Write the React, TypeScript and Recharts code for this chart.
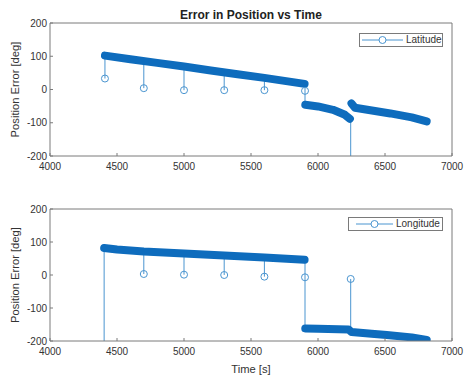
import { ComposedChart, Legend, Line, Scatter, XAxis, YAxis } from "recharts";

const xTicks = [4000, 4500, 5000, 5500, 6000, 6500, 7000];
const yTicks = [-200, -100, 0, 100, 200];

// Latitude error, thick runs of dense samples
const latRun1Time = [4410, 4600, 4800, 5000, 5200, 5400, 5600, 5800, 5900];
const latRun1Err = [102, 91, 80, 69, 57, 46, 35, 23, 17];
const latRun2Time = [5905, 6000, 6112, 6201, 6238];
const latRun2Err = [-46, -51, -61, -76, -88];
const latRun3Time = [6250, 6276, 6540, 6700, 6811];
const latRun3Err = [-42, -55, -72, -84, -96];
// stems (thin jumps) and the lone samples
const latStemTime = [4410, 4700, 5000, 5300, 5600, 5903, 6244];
const latStemFrom = [102, 86, 69, 52, 35, 17, -88];
const latStemTo = [33, 4, -2, -2, -2, -46, -400];
const latDotTime = [4410, 4700, 5000, 5300, 5600, 5903];
const latDotErr = [33, 4, -2, -2, -2, -4];

// Longitude error
const lonRun1Time = [4404, 4500, 4700, 5000, 5300, 5600, 5900];
const lonRun1Err = [82, 77, 71, 65, 59, 53, 46];
const lonRun2Time = [5905, 6000, 6228, 6250, 6400, 6513, 6700, 6811];
const lonRun2Err = [-162, -163, -165, -173, -178, -182, -189, -197];
const lonStemTime = [4404, 4700, 5000, 5300, 5600, 5903, 6244];
const lonStemFrom = [-400, 71, 65, 59, 53, 46, -167];
const lonStemTo = [82, 3, 1, 0, -5, -162, -12];
const lonDotTime = [4700, 5000, 5300, 5600, 5903, 6244];
const lonDotErr = [3, 1, 0, -5, -7, -12];

const FONT = '"Liberation Sans", Arial, sans-serif';
const BLUE = "#0e6cbd";
const THIN = "#4a95d0";
const AXIS = "#7a7a7a";
const TEXT = "#333";

const pts = (t: number[], v: number[]) => t.map((x, i) => ({ t: x, v: v[i] }));

const stems = (t: number[], a: number[], b: number[]) =>
  t.flatMap((x, i) => [
    { t: x, v: a[i] },
    { t: x + 0.01, v: b[i] },
    { t: x + 0.02, v: null },
  ]);

const tickStyle = { fill: TEXT, fontSize: 10, fontFamily: FONT };
const labelStyle = { fill: TEXT, fontSize: 11.2, fontFamily: FONT };

function LegendBox({ name, width, lineFrom, lineTo, textX }: any) {
  return (
    <div
      style={{
        width,
        height: 14,
        boxSizing: "border-box",
        border: `1px solid ${AXIS}`,
        background: "#fff",
        position: "relative",
        fontFamily: FONT,
        fontSize: 10,
        color: TEXT,
      }}
    >
      <svg width={width} height={14} style={{ position: "absolute", left: 0, top: -1 }}>
        <line x1={lineFrom} x2={lineTo} y1={7} y2={7} stroke={THIN} strokeWidth={1} />
        <circle cx={(lineFrom + lineTo) / 2} cy={7} r={3.5} fill="#fff" stroke={THIN} />
      </svg>
      <span style={{ position: "absolute", left: textX, top: 0, lineHeight: "12px" }}>{name}</span>
    </div>
  );
}

const ring = (p: any) => (
  <circle cx={p.cx} cy={p.cy} r={3.5} fill="none" stroke={THIN} strokeWidth={1} />
);

function Panel({
  height,
  top,
  xAxisHeight,
  runs,
  stemData,
  dotData,
  legend,
  legendPos,
  title,
  xLabel,
}: any) {
  return (
    <ComposedChart
      width={464}
      height={height}
      margin={{ top: top - 1, right: 11, left: 0, bottom: 0 }}
      style={{ fontFamily: FONT }}
    >
      <XAxis
        dataKey="t"
        type="number"
        domain={[4000, 7000]}
        ticks={xTicks}
        allowDataOverflow
        height={xAxisHeight}
        tick={tickStyle}
        tickSize={-3}
        tickMargin={10}
        stroke={AXIS}
        label={xLabel ? { value: xLabel, position: "insideBottom", offset: 4, style: labelStyle } : undefined}
      />
      <XAxis
        xAxisId="top"
        orientation="top"
        dataKey="t"
        type="number"
        domain={[4000, 7000]}
        ticks={xTicks}
        allowDataOverflow
        height={1}
        tick={false}
        tickSize={-3}
        stroke={AXIS}
        label={
          title
            ? { value: title, position: "top", offset: 3, style: { fill: "#222", fontSize: 12, fontWeight: "bold", fontFamily: FONT } }
            : undefined
        }
      />
      <YAxis
        type="number"
        domain={[-200, 200]}
        ticks={yTicks}
        allowDataOverflow
        width={50}
        tick={tickStyle}
        tickSize={-3}
        tickMargin={6}
        stroke={AXIS}
        label={{
          value: "Position Error [deg]",
          angle: -90,
          position: "center",
          dx: -10,
          style: labelStyle,
        }}
      />
      <YAxis
        yAxisId="right"
        orientation="right"
        type="number"
        domain={[-200, 200]}
        ticks={yTicks}
        allowDataOverflow
        width={1}
        tick={false}
        tickSize={-3}
        stroke={AXIS}
      />
      <Line
        data={stemData}
        dataKey="v"
        stroke={THIN}
        strokeWidth={1}
        dot={false}
        connectNulls={false}
        isAnimationActive={false}
      />
      {runs.map((r: any, i: number) => (
        <Line
          key={i}
          data={r}
          dataKey="v"
          stroke={BLUE}
          strokeWidth={8}
          strokeLinecap="round"
          strokeLinejoin="round"
          dot={false}
          isAnimationActive={false}
        />
      ))}
      <Scatter
        data={dotData}
        dataKey="v"
        xAxisId="top"
        yAxisId="right"
        shape={ring}
        isAnimationActive={false}
      />
      <Legend
        layout="horizontal"
        verticalAlign="middle"
        align="center"
        wrapperStyle={{ left: legendPos.left, top: legendPos.top, width: "auto" }}
        content={() => legend}
      />
    </ComposedChart>
  );
}

export default function App() {
  return (
    <div style={{ position: "absolute", left: 0, top: 0, width: 464, height: 377, background: "#fff" }}>
      <Panel
        height={190}
        top={23}
        xAxisHeight={34}
        title="Error in Position vs Time"
        runs={[
          pts(latRun1Time, latRun1Err),
          pts(latRun2Time, latRun2Err),
          pts(latRun3Time, latRun3Err),
        ]}
        stemData={stems(latStemTime, latStemFrom, latStemTo)}
        dotData={pts(latDotTime, latDotErr)}
        legendPos={{ left: 359, top: 33 }}
        legend={<LegendBox name="Latitude" width={84} lineFrom={2} lineTo={43} textX={46} />}
      />
      <Panel
        height={187}
        top={19}
        xAxisHeight={36}
        xLabel="Time [s]"
        runs={[pts(lonRun1Time, lonRun1Err), pts(lonRun2Time, lonRun2Err)]}
        stemData={stems(lonStemTime, lonStemFrom, lonStemTo)}
        dotData={pts(lonDotTime, lonDotErr)}
        legendPos={{ left: 348, top: 27 }}
        legend={<LegendBox name="Longitude" width={95} lineFrom={7} lineTo={44} textX={47} />}
      />
    </div>
  );
}
